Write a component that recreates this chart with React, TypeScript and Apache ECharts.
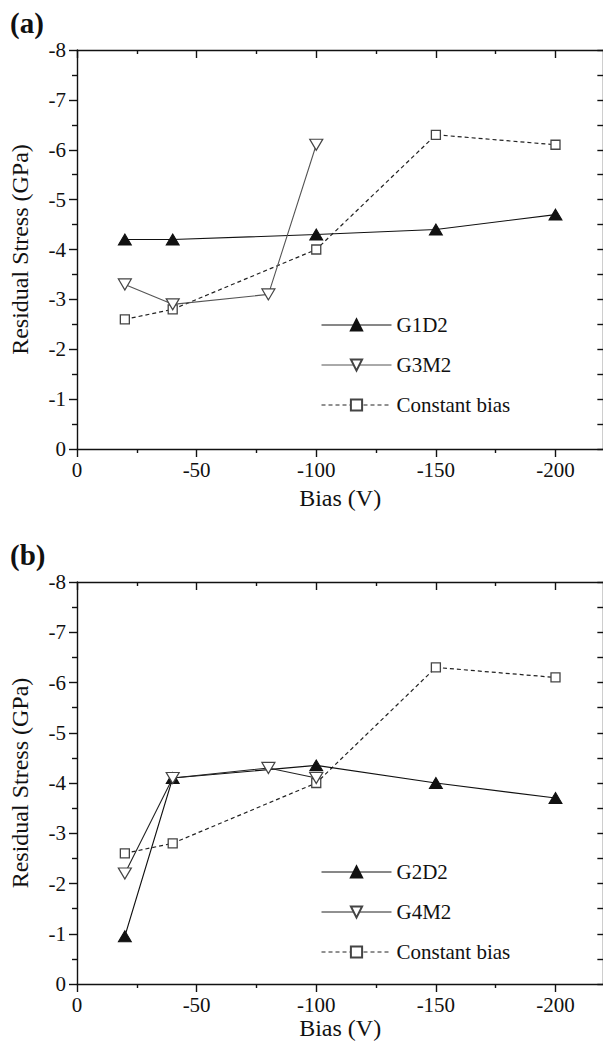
import React, { useEffect, useRef } from "react";
import * as echarts from "echarts";

// ---- data ----
const X_MAJOR = [0, -50, -100, -150, -200];
const X_MINOR = [-25, -75, -125, -175];

// panel (a)
const A_G1D2_BIAS = [-20, -40, -100, -150, -200];
const A_G1D2_STRESS = [-4.2, -4.2, -4.3, -4.4, -4.7];
const A_G3M2_BIAS = [-20, -40, -80, -100];
const A_G3M2_STRESS = [-3.3, -2.9, -3.1, -6.1];
const A_CONST_BIAS = [-20, -40, -100, -150, -200];
const A_CONST_STRESS = [-2.6, -2.8, -4.0, -6.3, -6.1];

// panel (b)
const B_G2D2_BIAS = [-20, -40, -100, -150, -200];
const B_G2D2_STRESS = [-0.95, -4.1, -4.35, -4.0, -3.7];
const B_G4M2_BIAS = [-20, -40, -80, -100];
const B_G4M2_STRESS = [-2.2, -4.1, -4.3, -4.1];
const B_CONST_BIAS = [-20, -40, -100, -150, -200];
const B_CONST_STRESS = [-2.6, -2.8, -4.0, -6.3, -6.1];

const LEGEND_A = ["G1D2", "G3M2", "Constant bias"];
const LEGEND_B = ["G2D2", "G4M2", "Constant bias"];

const FONT = "'Liberation Serif', 'Times New Roman', serif";
const INK = "#111";

const zip = (xs: number[], ys: number[]) => xs.map((x, i) => [x, ys[i]]);

function xAxesFor(gridIndex: number, nameGap: number) {
  const base = {
    gridIndex,
    type: "value",
    min: -220,
    max: 0,
    inverse: true,
    splitLine: { show: false },
  };
  const line = { color: INK, width: 1.4 };
  return [
    {
      ...base,
      position: "bottom",
      axisLine: { show: true, onZero: false, lineStyle: line },
      axisTick: { show: true, inside: false, length: 8, customValues: X_MAJOR, lineStyle: line },
      axisLabel: { customValues: X_MAJOR, fontSize: 21, fontFamily: FONT, color: INK, margin: 10 },
      name: "Bias (V)",
      nameLocation: "middle",
      nameGap,
      nameTextStyle: { fontSize: 24, fontFamily: FONT, color: INK },
    },
    {
      ...base,
      position: "bottom",
      axisLine: { show: false, onZero: false },
      axisTick: { show: true, inside: false, length: 4, customValues: X_MINOR, lineStyle: line },
      axisLabel: { show: false },
    },
    {
      ...base,
      position: "top",
      axisLine: { show: true, onZero: false, lineStyle: line },
      axisTick: { show: true, inside: true, length: 8, customValues: X_MAJOR, lineStyle: line },
      axisLabel: { show: false },
    },
    {
      ...base,
      position: "top",
      axisLine: { show: false, onZero: false },
      axisTick: { show: true, inside: true, length: 4, customValues: X_MINOR, lineStyle: line },
      axisLabel: { show: false },
    },
  ];
}

function yAxesFor(gridIndex: number) {
  const line = { color: INK, width: 1.4 };
  const base = {
    gridIndex,
    type: "value",
    min: -8,
    max: 0,
    interval: 1,
    inverse: true,
    splitLine: { show: false },
    minorSplitLine: { show: false },
  };
  return [
    {
      ...base,
      position: "left",
      axisLine: { show: true, onZero: false, lineStyle: line },
      axisTick: { show: true, inside: false, length: 8, lineStyle: line },
      minorTick: { show: true, splitNumber: 2, length: 5, lineStyle: line },
      axisLabel: { fontSize: 21, fontFamily: FONT, color: INK, margin: 11 },
      name: "Residual Stress (GPa)",
      nameLocation: "middle",
      nameGap: 45,
      nameRotate: 90,
      nameTextStyle: { fontSize: 24, fontFamily: FONT, color: INK },
    },
    {
      ...base,
      position: "right",
      axisLine: { show: true, onZero: false, lineStyle: line },
      axisTick: { show: true, inside: true, length: 6, lineStyle: line },
      minorTick: { show: true, splitNumber: 2, length: 6, lineStyle: line },
      axisLabel: { show: false },
    },
  ];
}

function filledTri(name: string, data: number[][], xi: number, yi: number) {
  return {
    type: "line",
    name,
    xAxisIndex: xi,
    yAxisIndex: yi,
    data,
    symbol: "triangle",
    symbolSize: [13, 11],
    lineStyle: { color: INK, width: 1.1 },
    itemStyle: { color: INK, borderColor: INK, borderWidth: 1 },
    z: 4,
  };
}

function openTri(name: string, data: number[][], xi: number, yi: number, lineColor: string) {
  return {
    type: "line",
    name,
    xAxisIndex: xi,
    yAxisIndex: yi,
    data,
    symbol: "triangle",
    symbolRotate: 180,
    symbolSize: [13, 11],
    lineStyle: { color: lineColor, width: 1.1 },
    itemStyle: { color: "#fff", borderColor: "#444", borderWidth: 1.2 },
    z: 5,
  };
}

function openSquare(name: string, data: number[][], xi: number, yi: number) {
  return {
    type: "line",
    name,
    xAxisIndex: xi,
    yAxisIndex: yi,
    data,
    symbol: "rect",
    symbolSize: 9,
    lineStyle: { color: "#222", width: 1.2, type: [4, 3] },
    itemStyle: { color: "#fff", borderColor: "#444", borderWidth: 1.3 },
    z: 3,
  };
}

export default function App() {
  const ref = useRef<HTMLDivElement>(null);

  useEffect(() => {
    if (!ref.current) return;
    const chart = echarts.init(ref.current, undefined, { renderer: "svg" });

    const legendCommon = {
      orient: "vertical",
      left: 321,
      padding: 0,
      itemWidth: 70,
      itemHeight: 14,
      itemGap: 18,
      selectedMode: false,
      textStyle: { fontSize: 21, fontFamily: FONT, color: INK, lineHeight: 22 },
      lineStyle: { width: 1 },
    };

    const option: any = {
      animation: false,
      backgroundColor: "#fff",
      title: [
        {
          text: "(a)",
          left: 10,
          top: 8,
          padding: 0,
          textStyle: { fontSize: 29, fontWeight: "bold", fontFamily: FONT, color: INK },
        },
        {
          text: "(b)",
          left: 10,
          top: 540,
          padding: 0,
          textStyle: { fontSize: 29, fontWeight: "bold", fontFamily: FONT, color: INK },
        },
      ],
      grid: [
        { left: 77, top: 50, width: 526.35, height: 399, outerBoundsMode: "none" },
        { left: 77, top: 582, width: 526.35, height: 402, outerBoundsMode: "none" },
      ],
      xAxis: [...xAxesFor(0, 37), ...xAxesFor(1, 30)],
      yAxis: [...yAxesFor(0), ...yAxesFor(1)],
      legend: [
        { ...legendCommon, top: 314, data: LEGEND_A },
        { ...legendCommon, top: 861, data: LEGEND_B },
      ],
      series: [
        openSquare("Constant bias", zip(A_CONST_BIAS, A_CONST_STRESS), 0, 0),
        filledTri("G1D2", zip(A_G1D2_BIAS, A_G1D2_STRESS), 0, 0),
        openTri("G3M2", zip(A_G3M2_BIAS, A_G3M2_STRESS), 0, 0, "#555"),
        openSquare("Constant bias", zip(B_CONST_BIAS, B_CONST_STRESS), 4, 2),
        filledTri("G2D2", zip(B_G2D2_BIAS, B_G2D2_STRESS), 4, 2),
        openTri("G4M2", zip(B_G4M2_BIAS, B_G4M2_STRESS), 4, 2, "#222"),
      ],
    };

    chart.setOption(option);
    return () => chart.dispose();
  }, []);

  return (
    <div
      ref={ref}
      style={{ position: "absolute", left: 0, top: 0, width: 603, height: 1048, background: "#fff" }}
    />
  );
}
